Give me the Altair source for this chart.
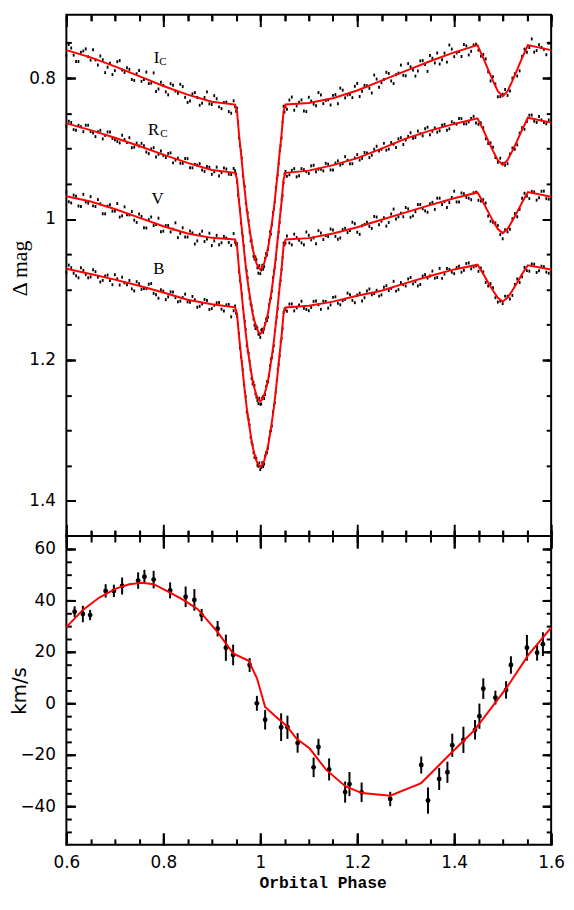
import altair as alt
import pandas as pd

# ---------------- light-curve observations (two interleaved sets) ----------------
obs_phase = [
    0.60, 0.61, 0.62, 0.63, 0.64, 0.65, 0.66, 0.67, 0.68, 0.69, 0.70, 0.71, 0.72, 0.73, 0.74,
    0.75, 0.76, 0.77, 0.78, 0.79, 0.80, 0.81, 0.82, 0.83, 0.84, 0.85, 0.86, 0.87, 0.88, 0.89,
    0.90, 0.91, 0.92, 0.93, 0.94,
    0.948, 0.952, 0.956, 0.960, 0.964, 0.968, 0.972, 0.976, 0.980, 0.984, 0.988, 0.992, 0.996,
    1.000, 1.004, 1.008, 1.012, 1.016, 1.020, 1.024, 1.028, 1.032, 1.036, 1.040, 1.044, 1.048, 1.052,
    1.06, 1.07, 1.08, 1.09, 1.10, 1.11, 1.12, 1.13, 1.14, 1.15, 1.16, 1.17, 1.18, 1.19, 1.20,
    1.21, 1.22, 1.23, 1.24, 1.25, 1.26, 1.27, 1.28, 1.29, 1.30, 1.31, 1.32, 1.33, 1.34, 1.35,
    1.36, 1.37, 1.38, 1.39, 1.40, 1.41, 1.42, 1.43, 1.44, 1.45, 1.46, 1.47, 1.48, 1.49, 1.50,
    1.51, 1.52, 1.53, 1.54, 1.55, 1.56, 1.57, 1.58, 1.59,
]
ic_obs = [
    .7683, .7573, .7764, .7634, .7585, .7745, .7741, .7686, .7922, .7787, .7893, .7751, .7919, .7876, .8034,
    .7892, .8020, .8078, .7926, .8154, .8102, .8237, .8101, .8216, .8120, .8345, .8225, .8275, .8355, .8195,
    .8375, .8293, .8432, .8340, .8498,
    .8405, .8429, .8849, .9034, .9385, .9539, .9870, 1.0023, 1.0311, 1.0402, 1.0569, 1.0575, 1.0768,
    1.0776, 1.0658, 1.0675, 1.0489, 1.0432, 1.0181, 1.0083, .9860, .9549, .9375, .9034, .8849, .8399, .8405,
    .8311, .8456, .8341, .8467, .8272, .8369, .8205, .8362, .8308, .8245, .8363, .8171, .8239, .8277, .8075,
    .8187, .8109, .8211, .8013, .8065, .7917, .8040, .7952, .7815, .7967, .7840, .7972, .7755, .7807, .7680,
    .7785, .7800, .7645, .7530, .7695, .7624, .7522, .7671, .7529, .7602, .7664, .7910, .7980, .8265, .8228,
    .8245, .8000, .7970, .7694, .7632, .7444, .7609, .7564, .7668,
]
rc_obs = [
    .8682, .8631, .8740, .8690, .8669, .8758, .8830, .8741, .8813, .8764, .8876, .8919, .8873, .8846, .8980,
    .8963, .8958, .9072, .8987, .9081, .9096, .9069, .9203, .9136, .9210, .9143, .9273, .9234, .9304, .9255,
    .9365, .9263, .9342, .9290, .9368,
    .9315, .9476, .9729, 1.0058, 1.0242, 1.0570, 1.0735, 1.1003, 1.1206, 1.1303, 1.1507, 1.1521, 1.1633,
    1.1680, 1.1563, 1.1561, 1.1417, 1.1393, 1.1146, 1.1023, 1.0735, 1.0570, 1.0262, 1.0048, .9719, .9486, .9325,
    .9372, .9285, .9387, .9300, .9353, .9237, .9292, .9316, .9221, .9305, .9175, .9215, .9165, .9215, .9085,
    .9138, .9061, .9094, .8967, .9010, .9022, .8913, .8985, .8846, .8878, .8775, .8843, .8790, .8718, .8805,
    .8706, .8747, .8658, .8719, .8640, .8573, .8647, .8620, .8543, .8656, .8705, .8927, .8982, .9194, .9210,
    .9214, .8992, .8947, .8705, .8616, .8524, .8629, .8593, .8648,
]
v_obs = [
    .9617, .9772, .9677, .9822, .9757, .9682, .9823, .9784, .9926, .9797, .9888, .9972, .9827, .9941, 1.0016,
    .9930, 1.0124, 1.0009, 1.0093, .9988, 1.0172, 1.0093, 1.0143, 1.0264, 1.0124, 1.0255, 1.0197, 1.0310, 1.0172, 1.0285,
    1.0377, 1.0231, 1.0336, 1.0270, 1.0374,
    1.0330, 1.0352, 1.0747, 1.0936, 1.1262, 1.1452, 1.1798, 1.1908, 1.2142, 1.2339, 1.2364, 1.2528, 1.2620,
    1.2628, 1.2540, 1.2548, 1.2374, 1.2309, 1.2082, 1.1968, 1.1798, 1.1472, 1.1272, 1.0926, 1.0717, 1.0342, 1.0340,
    1.0339, 1.0215, 1.0300, 1.0366, 1.0231, 1.0268, 1.0165, 1.0291, 1.0248, 1.0155, 1.0287, 1.0150, 1.0192, 1.0045, 1.0187,
    1.0096, 1.0045, 1.0133, .9972, 1.0031, 1.0100, .9929, .9998, .9917, .9836, .9975, .9895, .9794, .9884, .9783,
    .9863, .9704, .9754, .9765, .9605, .9758, .9641, .9704, .9627, .9734, .9725, .9958, 1.0046, 1.0092, 1.0280,
    1.0182, .9996, .9968, .9705, .9674, .9608, .9732, .9606, .9711,
]
b_obs = [
    1.0756, 1.0691, 1.0806, 1.0691, 1.0786, 1.0821, 1.0747, 1.0893, 1.0808, 1.0874, 1.0790, 1.0937, 1.0905, 1.0872, 1.1020,
    1.0917, 1.0986, 1.0925, 1.1055, 1.1124, 1.1023, 1.1104, 1.1034, 1.1175, 1.1115, 1.1176, 1.1099, 1.1252, 1.1204, 1.1157,
    1.1270, 1.1189, 1.1279, 1.1218, 1.1388,
    1.1234, 1.1384, 1.1624, 1.1960, 1.2141, 1.2457, 1.2739, 1.2846, 1.3097, 1.3202, 1.3385, 1.3398, 1.3509,
    1.3556, 1.3459, 1.3478, 1.3315, 1.3252, 1.3017, 1.2936, 1.2649, 1.2457, 1.2131, 1.1940, 1.1694, 1.1324, 1.1284,
    1.1207, 1.1303, 1.1219, 1.1265, 1.1301, 1.1169, 1.1217, 1.1166, 1.1264, 1.1112, 1.1195, 1.1158, 1.1052, 1.1155, 1.1078,
    1.1164, 1.1020, 1.1075, 1.1011, 1.1077, 1.0946, 1.0984, 1.1023, 1.0901, 1.0950, 1.0830, 1.0889, 1.0929, 1.0788, 1.0808,
    1.0839, 1.0701, 1.0782, 1.0714, 1.0775, 1.0671, 1.0727, 1.0623, 1.0679, 1.0742, 1.0750, 1.0950, 1.0974, 1.1178, 1.1200,
    1.1098, 1.1084, 1.0850, 1.0820, 1.0732, 1.0636, 1.0758, 1.0670, 1.0753,
]

obs2_phase = [
    0.605, 0.615, 0.625, 0.635, 0.645, 0.655, 0.665, 0.675, 0.685, 0.695, 0.705, 0.715, 0.725, 0.735, 0.745,
    0.755, 0.765, 0.775, 0.785, 0.795, 0.805, 0.815, 0.825, 0.835, 0.845, 0.855, 0.865, 0.875, 0.885, 0.895,
    0.905, 0.915, 0.925, 0.935, 0.945,
    0.950, 0.954, 0.958, 0.962, 0.966, 0.970, 0.974, 0.978, 0.982, 0.986, 0.990, 0.994, 0.998,
    1.002, 1.006, 1.010, 1.014, 1.018, 1.022, 1.026, 1.030, 1.034, 1.038, 1.042, 1.046, 1.050,
    1.055, 1.065, 1.075, 1.085, 1.095, 1.105, 1.115, 1.125, 1.135, 1.145, 1.155, 1.165, 1.175, 1.185, 1.195,
    1.205, 1.215, 1.225, 1.235, 1.245, 1.255, 1.265, 1.275, 1.285, 1.295, 1.305, 1.315, 1.325, 1.335, 1.345,
    1.355, 1.365, 1.375, 1.385, 1.395, 1.405, 1.415, 1.425, 1.435, 1.445, 1.455, 1.465, 1.475, 1.485, 1.495,
    1.505, 1.515, 1.525, 1.535, 1.545, 1.555, 1.565, 1.575, 1.585, 1.595,
]
ic_obs2 = [
    .7523, .7674, .7765, .7615, .7697, .7598, .7814, .7739, .7845, .7950, .7767, .7885, .7853, .8020, .7938,
    .8046, .7914, .8072, .8190, .8058, .8195, .8079, .8184, .8088, .8273, .8325, .8205, .8385, .8275, .8365,
    .8249, .8408, .8346, .8475, .8322,
    .8472, .8626, .8960, .9134, .9495, .9776, .9911, 1.0184, 1.0305, 1.0530, 1.0537, 1.0692, 1.0662,
    1.0722, 1.0712, 1.0557, 1.0510, 1.0305, 1.0214, .9911, .9756, .9425, .9214, .8960, .8626, .8482,
    .8443, .8269, .8394, .8309, .8475, .8326, .8392, .8239, .8315, .8382, .8234, .8142, .8280, .8228, .8116,
    .8261, .8103, .8145, .7957, .8129, .8021, .7934, .8076, .7929, .7961, .7794, .7886, .7899, .7751, .7904,
    .7718, .7643, .7738, .7773, .7588, .7645, .7693, .7542, .7620, .7520, .7688, .7727, .8040, .8083, .8262,
    .8162, .8183, .7940, .7897, .7588, .7566, .7631, .7526, .7591, .7506,
]
rc_obs2 = [
    .8612, .8731, .8670, .8760, .8669, .8779, .8761, .8862, .8764, .8855, .8898, .8811, .8915, .8988, .8922,
    .8926, .9050, .9005, .9119, .9034, .9128, .9061, .9165, .9208, .9142, .9273, .9224, .9214, .9325, .9265,
    .9329, .9388, .9276, .9364, .9282,
    .9361, .9659, .9857, 1.0195, 1.0379, 1.0693, 1.0833, 1.1122, 1.1228, 1.1420, 1.1554, 1.1547, 1.1636,
    1.1576, 1.1607, 1.1484, 1.1440, 1.1218, 1.1122, 1.0833, 1.0683, 1.0389, 1.0185, .9857, .9669, .9361,
    .9394, .9309, .9401, .9284, .9327, .9245, .9330, .9294, .9209, .9303, .9205, .9235, .9115, .9215, .9135,
    .9162, .9055, .9128, .9011, .9034, .8926, .9008, .8939, .8861, .8942, .8827, .8854, .8752, .8819, .8697,
    .8756, .8767, .8668, .8739, .8620, .8652, .8575, .8649, .8572, .8637, .8636, .8861, .8919, .9128, .9137,
    .9237, .9078, .9009, .8781, .8726, .8526, .8611, .8546, .8631, .8595,
]
v_obs2 = [
    .9755, .9660, .9815, .9650, .9775, .9813, .9724, .9925, .9817, .9888, .9780, .9955, .9939, .9894, 1.0048,
    .9962, 1.0127, .9971, 1.0076, 1.0180, 1.0093, 1.0183, 1.0054, 1.0204, 1.0255, 1.0171, 1.0354, 1.0216, 1.0319, 1.0201,
    1.0309, 1.0364, 1.0248, 1.0332, 1.0206,
    1.0366, 1.0526, 1.0875, 1.1064, 1.1390, 1.1566, 1.1877, 1.2016, 1.2264, 1.2317, 1.2482, 1.2575, 1.2544,
    1.2624, 1.2515, 1.2492, 1.2307, 1.2224, 1.1986, 1.1877, 1.1586, 1.1390, 1.1054, 1.0875, 1.0546, 1.0366,
    1.0241, 1.0367, 1.0263, 1.0338, 1.0184, 1.0295, 1.0352, 1.0198, 1.0235, 1.0142, 1.0246, 1.0269, 1.0131, 1.0164, 1.0066,
    1.0217, 1.0076, 1.0104, .9963, 1.0082, .9981, 1.0050, .9859, .9968, .9967, .9856, .9955, .9795, .9854, .9904,
    .9763, .9704, .9794, .9835, .9695, .9757, .9630, .9693, .9726, .9620, .9745, .9772, 1.0032, 1.0054, 1.0221,
    1.0151, 1.0144, .9922, .9862, .9635, .9710, .9615, .9699, .9604, .9718,
]
b_obs2 = [
    1.0654, 1.0769, 1.0834, 1.0729, 1.0834, 1.0719, 1.0825, 1.0871, 1.0796, 1.0932, 1.0849, 1.0826, 1.0934, 1.0991, 1.0889,
    1.0997, 1.0986, 1.0915, 1.1075, 1.1004, 1.1144, 1.1034, 1.1115, 1.1165, 1.1066, 1.1183, 1.1146, 1.1238, 1.1141, 1.1284,
    1.1225, 1.1184, 1.1304, 1.1213, 1.1302,
    1.1339, 1.1495, 1.1831, 1.2026, 1.2347, 1.2519, 1.2796, 1.2923, 1.3168, 1.3318, 1.3372, 1.3494, 1.3462,
    1.3522, 1.3514, 1.3362, 1.3318, 1.3118, 1.3003, 1.2736, 1.2609, 1.2287, 1.2066, 1.1741, 1.1555, 1.1279,
    1.1309, 1.1205, 1.1261, 1.1167, 1.1283, 1.1255, 1.1163, 1.1282, 1.1170, 1.1218, 1.1104, 1.1217, 1.1140, 1.1074, 1.1187,
    1.1051, 1.1117, 1.0993, 1.1058, 1.1094, 1.0967, 1.1015, 1.0884, 1.1002, 1.0931, 1.0850, 1.0920, 1.0949, 1.0809, 1.0838,
    1.0739, 1.0830, 1.0842, 1.0703, 1.0755, 1.0688, 1.0754, 1.0630, 1.0706, 1.0662, 1.0696, 1.0900, 1.0917, 1.1116, 1.1164,
    1.1094, 1.1136, 1.0927, 1.0900, 1.0686, 1.0740, 1.0642, 1.0734, 1.0676, 1.0769,
]

# ---------------- light-curve models ----------------
model_phase = [
    0.60, 0.65, 0.70, 0.75, 0.80, 0.85, 0.90,
    0.948, 0.952, 0.956, 0.960, 0.964, 0.968, 0.972, 0.976, 0.980, 0.984, 0.988, 0.992, 0.996,
    1.000, 1.004, 1.008, 1.012, 1.016, 1.020, 1.024, 1.028, 1.032, 1.036, 1.040, 1.044, 1.048, 1.052,
    1.10, 1.15, 1.20, 1.25, 1.30, 1.35, 1.40, 1.448, 1.46, 1.47, 1.48, 1.49, 1.50,
    1.51, 1.52, 1.53, 1.54, 1.552, 1.60,
]
ic_model = [
    .7603, .7705, .7833, .7972, .8112, .8235, .8335,
    .8375, .8469, .8789, .9054, .9335, .9599, .9850, 1.0053, 1.0241, 1.0412, 1.0529, 1.0625, 1.0688,
    1.0716, 1.0688, 1.0625, 1.0529, 1.0412, 1.0241, 1.0053, .9850, .9599, .9335, .9054, .8789, .8469, .8375,
    .8352, .8285, .8175, .8035, .7897, .7760, .7635, .7532, .7714, .7880, .8040, .8185, .8258,
    .8185, .8040, .7880, .7714, .7532, .7603,
]
rc_model = [
    .8642, .8738, .8846, .8963, .9086, .9203, .9305,
    .9345, .9436, .9749, 1.0008, 1.0282, 1.0540, 1.0785, 1.0983, 1.1166, 1.1333, 1.1447, 1.1541, 1.1603,
    1.1630, 1.1603, 1.1541, 1.1447, 1.1333, 1.1166, 1.0983, 1.0785, 1.0540, 1.0282, 1.0008, .9749, .9436, .9345,
    .9313, .9235, .9135, .9000, .8858, .8745, .8650, .8570, .8735, .8887, .9032, .9164, .9230,
    .9164, .9032, .8887, .8735, .8562, .8632,
]
v_model = [
    .9677, .9752, .9858, .9980, 1.0102, 1.0205, 1.0267,
    1.0290, 1.0382, 1.0697, 1.0956, 1.1232, 1.1492, 1.1738, 1.1938, 1.2122, 1.2289, 1.2404, 1.2498, 1.2560,
    1.2588, 1.2560, 1.2498, 1.2404, 1.2289, 1.2122, 1.1938, 1.1738, 1.1492, 1.1232, 1.0956, 1.0697, 1.0382, 1.0290,
    1.0271, 1.0205, 1.0117, 1.0011, .9906, .9803, .9705, .9623, .9765, .9898, 1.0026, 1.0142, 1.0200,
    1.0142, 1.0026, .9898, .9765, .9617, .9685,
]
b_model = [
    1.0706, 1.0781, 1.0860, 1.0947, 1.1043, 1.1146, 1.1210,
    1.1254, 1.1344, 1.1654, 1.1910, 1.2181, 1.2437, 1.2679, 1.2876, 1.3057, 1.3222, 1.3335, 1.3428, 1.3489,
    1.3516, 1.3489, 1.3428, 1.3335, 1.3222, 1.3057, 1.2876, 1.2679, 1.2437, 1.2181, 1.1910, 1.1654, 1.1344, 1.1254,
    1.1231, 1.1172, 1.1088, 1.1017, 1.0910, 1.0808, 1.0715, 1.0648, 1.0780, 1.0900, 1.1014, 1.1118, 1.1170,
    1.1118, 1.1014, 1.0900, 1.0780, 1.0656, 1.0715,
]
band_names = ["Ic", "Rc", "V", "B"]

# band labels (annotation anchors in data units)
label_main = ["I", "R", "V", "B"]
label_main_phase = [0.786, 0.780, 0.788, 0.791]
label_main_mag = [0.771, 0.874, 0.971, 1.071]
label_sub = ["C", "C"]
label_sub_phase = [0.799, 0.801]
label_sub_mag = [0.777, 0.880]

# ---------------- radial velocities ----------------
rv_phase = [0.617, 0.634, 0.649, 0.681, 0.698, 0.715, 0.748, 0.761, 0.780, 0.814, 0.846, 0.864,
            0.879, 0.912, 0.929, 0.944, 0.978, 0.993, 1.010, 1.043, 1.056, 1.077, 1.110, 1.120,
            1.142, 1.175, 1.184, 1.209, 1.268, 1.332, 1.346, 1.369, 1.386, 1.396, 1.419, 1.443,
            1.452, 1.460, 1.485, 1.507, 1.517, 1.550, 1.571, 1.583]
rv_vel = [35.6, 34.7, 34.3, 43.7, 43.7, 45.6, 47.7, 49.2, 48.1, 43.9, 41.4, 40.2,
          34.3, 29.0, 21.6, 18.8, 14.9, 0.0, -6.4, -9.3, -9.3, -15.4, -24.9, -17.0,
          -25.7, -34.5, -31.4, -34.6, -37.2, -24.0, -37.8, -29.4, -26.8, -16.3, -14.2, -10.3,
          -5.0, 5.7, 2.2, 5.2, 14.9, 21.6, 19.7, 23.0]
rv_err = [2.1, 3.2, 2.0, 2.6, 2.4, 3.3, 3.2, 2.7, 3.4, 3.1, 4.0, 4.2,
          2.4, 3.0, 5.1, 4.0, 2.7, 2.9, 3.8, 5.4, 4.5, 3.8, 3.8, 3.2,
          4.3, 4.1, 4.7, 3.8, 2.8, 3.3, 5.1, 4.3, 4.1, 4.5, 5.1, 3.8,
          4.9, 4.0, 2.7, 3.4, 3.4, 5.0, 3.1, 4.6]
rv_model_phase = [0.600, 0.634, 0.668, 0.702, 0.730, 0.756, 0.780, 0.814, 0.843, 0.871,
                  0.912, 0.944, 0.976, 0.993, 1.010, 1.034, 1.054, 1.075, 1.102, 1.136,
                  1.176, 1.210, 1.268, 1.332, 1.386, 1.441, 1.508, 1.553, 1.600]
rv_model_vel = [29.6, 36.3, 41.1, 44.6, 46.3, 46.9, 46.3, 43.0, 40.0, 36.6,
                27.7, 19.4, 16.5, 9.8, -1.4, -5.5, -8.7, -13.8, -17.6, -25.9,
                -32.3, -34.9, -35.9, -31.0, -20.8, -10.6, 6.0, 18.8, 29.4]

# ---------------- tables ----------------
obs_df = pd.concat(
    [pd.DataFrame({"phase": obs_phase, "mag": m, "band": b})
     for b, m in zip(band_names, [ic_obs, rc_obs, v_obs, b_obs])]
    + [pd.DataFrame({"phase": obs2_phase, "mag": m, "band": b})
       for b, m in zip(band_names, [ic_obs2, rc_obs2, v_obs2, b_obs2])]
)
model_df = pd.concat([pd.DataFrame({"phase": model_phase, "mag": m, "band": b})
                      for b, m in zip(band_names, [ic_model, rc_model, v_model, b_model])])
lab_df = pd.DataFrame({"phase": label_main_phase, "mag": label_main_mag, "txt": label_main})
sub_df = pd.DataFrame({"phase": label_sub_phase, "mag": label_sub_mag, "txt": label_sub})
rv_df = pd.DataFrame({"phase": rv_phase, "vel": rv_vel, "err": rv_err})
rvm_df = pd.DataFrame({"phase": rv_model_phase, "vel": rv_model_vel})

# ---------------- layout / style ----------------
W, H1, H2 = 490, 527, 312
X_DOM = [0.6, 1.6]
LC_DOM = [0.71, 1.45]
RV_DOM = [-55, 65]
LABEL_FONT = "DejaVu Sans"

x_major = [0.6, 0.8, 1.0, 1.2, 1.4, 1.6]
x_minor = [round(0.6 + 0.05 * i, 2) for i in range(21)]
lc_major = [0.8, 1.0, 1.2, 1.4]
lc_minor = [round(0.75 + 0.05 * i, 2) for i in range(14)]
rv_major = [-40, -20, 0, 20, 40, 60]
rv_minor = [-50 + 5 * i for i in range(23)]

XMAJ, XMIN = 12, 6
YMAJ, YMIN = 9, 5
TICK_W = 2


def xsc():
    return alt.Scale(domain=X_DOM, nice=False, zero=False)


def lcsc():
    return alt.Scale(domain=LC_DOM, reverse=True, nice=False, zero=False)


def rvsc():
    return alt.Scale(domain=RV_DOM, nice=False, zero=False)


def tick_axis(orient, offset, values, size):
    # axis moved onto the opposite edge so that its ticks point into the plot
    return alt.Axis(orient=orient, offset=offset, values=values, labels=False, domain=False,
                    grid=False, title=None, tickColor="black", tickWidth=TICK_W, tickSize=size)


def grid_ticks(orient, values, tick_len, span):
    # dashed grid: only a short piece shows at each edge
    return alt.Axis(orient=orient, values=values, labels=False, domain=False, ticks=False,
                    title=None, grid=True, gridColor="black", gridWidth=TICK_W, gridOpacity=1,
                    gridDash=[tick_len, span - 2 * tick_len])


def label_axis_y(values, fmt, title, font, size, ty):
    return alt.Axis(orient="left", values=values, format=fmt, ticks=False, domain=False,
                    labelFont=LABEL_FONT, labelFontSize=17, labelColor="black", labelPadding=11,
                    grid=True, gridColor="black", gridWidth=TICK_W, gridOpacity=1,
                    gridDash=[YMAJ, W - 2 * YMAJ],
                    title=title, titleFont=font, titleFontSize=size, titleFontWeight="normal",
                    titleColor="black", titleX=-47, titleY=ty, titleAngle=270,
                    titleAlign="center", titleBaseline="middle")


# ---------------- top panel: light curves ----------------
pts = alt.Chart(obs_df).mark_point(
    shape="M-0.6,-1L0.6,-1L0.6,1L-0.6,1Z", size=9, filled=True, color="black", opacity=1
).encode(
    x=alt.X("phase:Q", scale=xsc(), axis=tick_axis("top", -H1, x_major, XMAJ)),
    y=alt.Y("mag:Q", scale=lcsc(), axis=label_axis_y(lc_major, ".1~f", "Δ mag",
                                                     "Liberation Serif", 22, 256)),
)
lines = alt.Chart(model_df).mark_line(color="#ff0000", strokeWidth=2).encode(
    x=alt.X("phase:Q", scale=xsc(), axis=tick_axis("top", -H1, x_minor, XMIN)),
    y=alt.Y("mag:Q", scale=lcsc(), axis=tick_axis("right", -W, lc_major, YMAJ)),
    detail="band:N",
)
labs = alt.Chart(lab_df).mark_text(font="Liberation Serif", fontSize=17, color="black").encode(
    x=alt.X("phase:Q", scale=xsc(), axis=tick_axis("bottom", -H1, x_major, XMAJ)),
    y=alt.Y("mag:Q", scale=lcsc(), axis=tick_axis("right", -W, lc_minor, YMIN)),
    text="txt:N",
)
subs = alt.Chart(sub_df).mark_text(font="Liberation Serif", fontSize=11, color="black").encode(
    x=alt.X("phase:Q", scale=xsc(), axis=tick_axis("bottom", -H1, x_minor, XMIN)),
    y=alt.Y("mag:Q", scale=lcsc(), axis=tick_axis("left", -W, lc_major, YMAJ)),
    text="txt:N",
)
ghost_top = alt.Chart(model_df).mark_point(size=1, opacity=0).encode(
    x=alt.X("phase:Q", scale=xsc(), axis=grid_ticks("bottom", x_minor, XMIN, H1)),
    y=alt.Y("mag:Q", scale=lcsc(), axis=tick_axis("left", -W, lc_minor, YMIN)),
)
top = alt.layer(pts, lines, labs, subs, ghost_top).resolve_axis(
    x="independent", y="independent").properties(width=W, height=H1)

# ---------------- bottom panel: radial velocities ----------------
x_label_axis = alt.Axis(orient="bottom", values=x_major, format=".1~f", ticks=False, domain=False,
                        labelFont=LABEL_FONT, labelFontSize=17, labelColor="black", labelPadding=10,
                        labelFlush=False, labelOverlap=False,
                        grid=True, gridColor="black", gridWidth=TICK_W, gridOpacity=1,
                        gridDash=[XMAJ, H2 - 2 * XMAJ],
                        title="Orbital Phase", titleFont="Liberation Mono", titleFontSize=16.5,
                        titleFontWeight="bold", titleColor="black", titleX=259, titleY=38,
                        titleAlign="center", titleBaseline="middle")

errs = alt.Chart(rv_df).transform_calculate(
    lo="datum.vel - datum.err", hi="datum.vel + datum.err"
).mark_rule(color="black", strokeWidth=2).encode(
    x=alt.X("phase:Q", scale=xsc(), axis=x_label_axis),
    y=alt.Y("lo:Q", scale=rvsc(), axis=label_axis_y(rv_major, "d", "km/s", LABEL_FONT, 20, 156)),
    y2="hi:Q",
)
rvpts = alt.Chart(rv_df).mark_circle(size=24, color="black", opacity=1).encode(
    x=alt.X("phase:Q", scale=xsc(), axis=tick_axis("top", -H2, x_major, XMAJ)),
    y=alt.Y("vel:Q", scale=rvsc(), axis=tick_axis("right", -W, rv_major, YMAJ)),
)
rvline = alt.Chart(rvm_df).mark_line(color="#ff0000", strokeWidth=2).encode(
    x=alt.X("phase:Q", scale=xsc(), axis=tick_axis("top", -H2, x_minor, XMIN)),
    y=alt.Y("vel:Q", scale=rvsc(), axis=tick_axis("right", -W, rv_minor, YMIN)),
)
ghost_b1 = alt.Chart(rvm_df).mark_point(size=1, opacity=0).encode(
    x=alt.X("phase:Q", scale=xsc(), axis=tick_axis("bottom", -H2, x_major, XMAJ)),
    y=alt.Y("vel:Q", scale=rvsc(), axis=tick_axis("left", -W, rv_major, YMAJ)),
)
ghost_b2 = alt.Chart(rvm_df).mark_point(size=1, opacity=0).encode(
    x=alt.X("phase:Q", scale=xsc(), axis=tick_axis("bottom", -H2, x_minor, XMIN)),
    y=alt.Y("vel:Q", scale=rvsc(), axis=tick_axis("left", -W, rv_minor, YMIN)),
)
bottom = alt.layer(errs, rvpts, rvline, ghost_b1, ghost_b2).resolve_axis(
    x="independent", y="independent").properties(width=W, height=H2)

chart = alt.vconcat(top, bottom, spacing=0, bounds="flush").properties(
    padding={"left": 0, "top": 0, "right": 0, "bottom": 0},
).configure(background="white").configure_view(stroke="black", strokeWidth=2)

chart.save("out.html", embed_options={"renderer": "svg", "actions": False})
